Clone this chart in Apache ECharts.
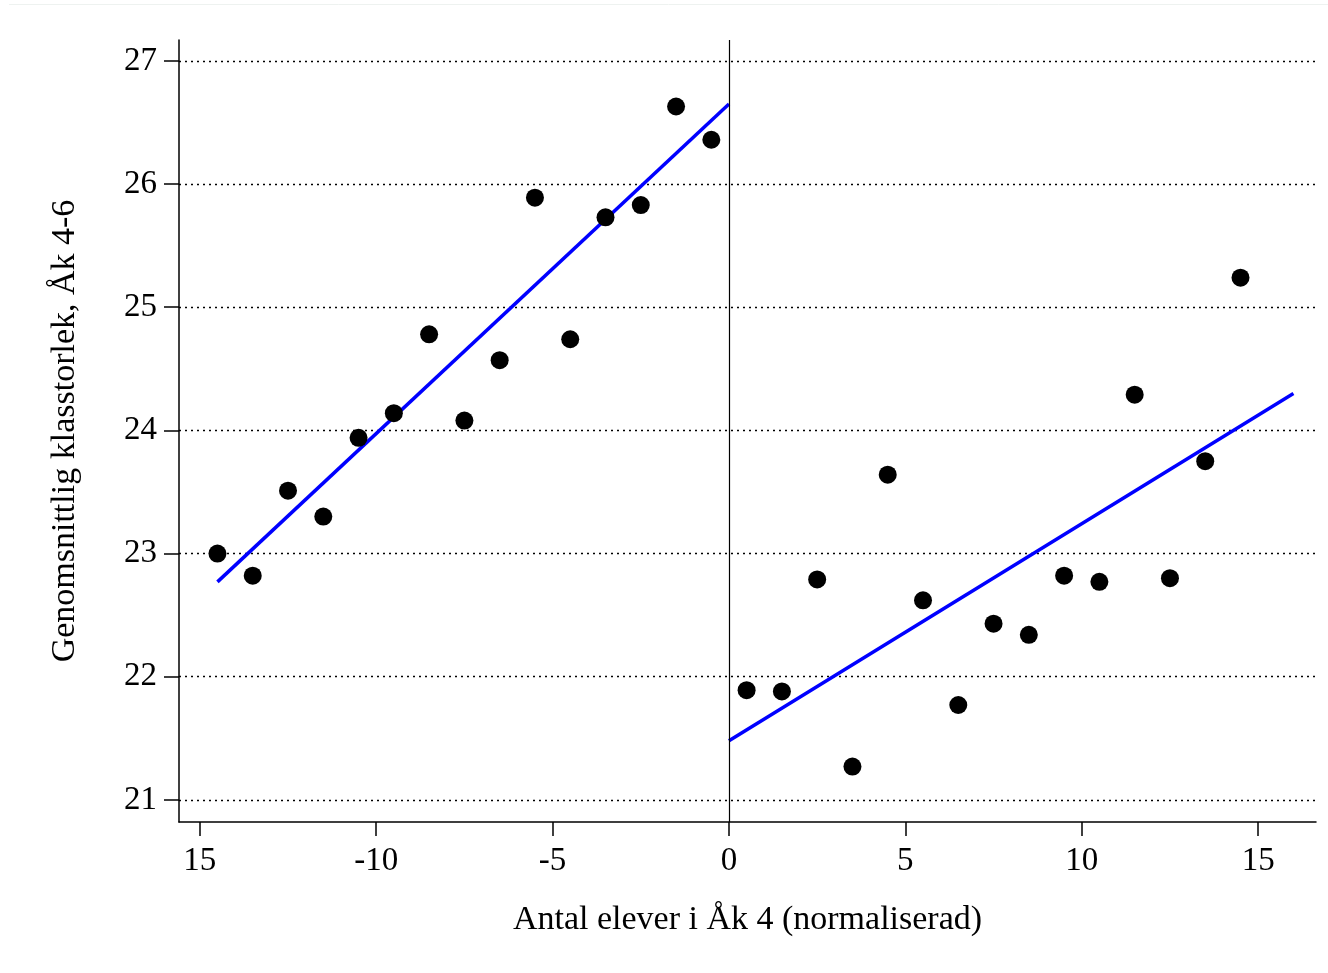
<!DOCTYPE html>
<html>
<head>
<meta charset="utf-8">
<script src="https://cdn.jsdelivr.net/npm/echarts@6/dist/echarts.min.js"></script>
<style>
html,body{margin:0;padding:0;background:#fff;}
#chart{width:1328px;height:973px;}
</style>
</head>
<body>
<div id="chart"></div>
<script>
// Data
const leftX = [-14.5,-13.5,-12.5,-11.5,-10.5,-9.5,-8.5,-7.5,-6.5,-5.5,-4.5,-3.5,-2.5,-1.5,-0.5];
const leftY = [23.00,22.82,23.51,23.30,23.94,24.14,24.78,24.08,24.57,25.89,24.74,25.73,25.83,26.63,26.36];
const rightX = [0.5,1.5,2.5,3.5,4.5,5.5,6.5,7.5,8.5,9.5,10.5,11.5,12.5,13.5,14.5];
const rightY = [21.89,21.88,22.79,21.27,23.64,22.62,21.77,22.43,22.34,22.82,22.77,24.29,22.80,23.75,25.24];
const leftFitX = [-14.5, 0];
const leftFitY = [22.77, 26.65];
const rightFitX = [0, 16];
const rightFitY = [21.48, 24.30];
const xTickValues = [-15,-10,-5,0,5,10,15];
const xTickLabels = ["15","-10","-5","0","5","10","15"];
const yTickValues = [21,22,23,24,25,26,27];
const yTickLabels = ["21","22","23","24","25","26","27"];
const xTitle = "Antal elever i Åk 4 (normaliserad)";
const yTitle = "Genomsnittlig klasstorlek, Åk 4-6";

const zip = (xs, ys) => xs.map((x, i) => [x, ys[i]]);
const font = "Liberation Serif";

const chart = echarts.init(document.getElementById('chart'), null, {renderer: 'canvas'});
chart.setOption({
  animation: false,
  backgroundColor: '#fff',
  graphic: [{
    type: 'line', silent: true,
    shape: {x1: 9, y1: 4.5, x2: 1328, y2: 4.5},
    style: {stroke: '#eef2f0', lineWidth: 1}
  }],
  grid: {left: 179, top: 40, right: 12, bottom: 151, containLabel: false},
  xAxis: {
    type: 'value',
    min: -15.59, max: 16.64,
    name: xTitle,
    nameLocation: 'middle',
    nameGap: 81,
    nameTextStyle: {fontFamily: font, fontSize: 34, color: '#000'},
    axisLine: {show: true, onZero: false, lineStyle: {color: '#000', width: 1.5}},
    axisTick: {show: true, inside: false, length: 14, customValues: xTickValues, lineStyle: {color: '#000', width: 1.5}},
    axisLabel: {
      customValues: xTickValues,
      margin: 23,
      fontFamily: font, fontSize: 33, color: '#000',
      formatter: v => { const i = xTickValues.indexOf(Math.round(v)); return i >= 0 ? xTickLabels[i] : ''; }
    },
    splitLine: {show: false}
  },
  yAxis: {
    type: 'value',
    min: 20.82, max: 27.17,
    name: yTitle,
    nameLocation: 'middle',
    nameGap: 97,
    nameRotate: 90,
    nameTextStyle: {fontFamily: font, fontSize: 34, color: '#000'},
    axisLine: {show: true, onZero: false, lineStyle: {color: '#000', width: 1.5}},
    axisTick: {show: true, inside: false, length: 15, customValues: yTickValues, lineStyle: {color: '#000', width: 1.5}},
    axisLabel: {
      customValues: yTickValues,
      margin: 22,
      fontFamily: font, fontSize: 33, color: '#000',
      formatter: v => { const i = yTickValues.indexOf(Math.round(v)); return i >= 0 ? yTickLabels[i] : ''; }
    },
    splitLine: {show: true, lineStyle: {color: '#000', width: 1.3, type: [2, 4]}}
  },
  series: [
    {
      type: 'line',
      data: zip(leftFitX, leftFitY),
      showSymbol: false, symbol: 'none',
      lineStyle: {color: '#0000ff', width: 3.5},
      z: 3,
      markLine: {
        silent: true,
        symbol: ['none', 'none'],
        label: {show: false},
        lineStyle: {color: '#000', width: 1.2, type: 'solid'},
        data: [{xAxis: 0}]
      }
    },
    {
      type: 'line',
      data: zip(rightFitX, rightFitY),
      showSymbol: false, symbol: 'none',
      lineStyle: {color: '#0000ff', width: 3.5},
      z: 3
    },
    {
      type: 'scatter',
      data: zip(leftX, leftY),
      symbol: 'circle', symbolSize: 18,
      itemStyle: {color: '#000', opacity: 1},
      z: 4
    },
    {
      type: 'scatter',
      data: zip(rightX, rightY),
      symbol: 'circle', symbolSize: 18,
      itemStyle: {color: '#000', opacity: 1},
      z: 4
    }
  ]
});
</script>
</body>
</html>
